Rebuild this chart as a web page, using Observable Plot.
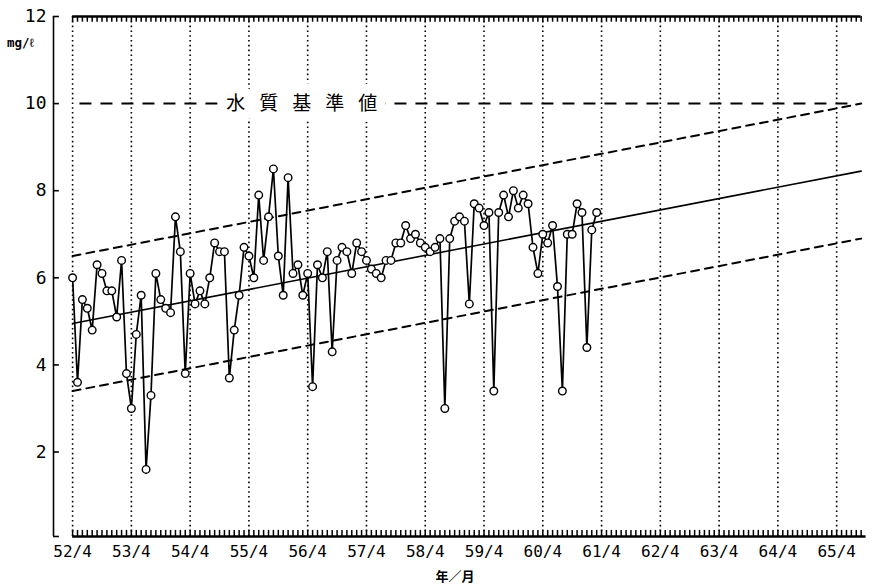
<!DOCTYPE html>
<html><head><meta charset="utf-8">
<script src="https://cdn.jsdelivr.net/npm/d3@7"></script>
<script src="https://cdn.jsdelivr.net/npm/@observablehq/plot@0.6"></script>
<style>
body{margin:0;background:#fff}
#chart{width:875px;height:584px}
</style>
</head><body><div id="chart"></div>
<script>
// Monthly nitrate values (mg/ℓ), from 52/4 through 61/3
const monthlyValues = [
  6.0, 3.6, 5.5, 5.3, 4.8, 6.3, 6.1, 5.7, 5.7, 5.1, 6.4, 3.8,
  3.0, 4.7, 5.6, 1.6, 3.3, 6.1, 5.5, 5.3, 5.2, 7.4, 6.6, 3.8,
  6.1, 5.4, 5.7, 5.4, 6.0, 6.8, 6.6, 6.6, 3.7, 4.8, 5.6, 6.7,
  6.5, 6.0, 7.9, 6.4, 7.4, 8.5, 6.5, 5.6, 8.3, 6.1, 6.3, 5.6,
  6.1, 3.5, 6.3, 6.0, 6.6, 4.3, 6.4, 6.7, 6.6, 6.1, 6.8, 6.6,
  6.4, 6.2, 6.1, 6.0, 6.4, 6.4, 6.8, 6.8, 7.2, 6.9, 7.0, 6.8,
  6.7, 6.6, 6.7, 6.9, 3.0, 6.9, 7.3, 7.4, 7.3, 5.4, 7.7, 7.6,
  7.2, 7.5, 3.4, 7.5, 7.9, 7.4, 8.0, 7.6, 7.9, 7.7, 6.7, 6.1,
  7.0, 6.8, 7.2, 5.8, 3.4, 7.0, 7.0, 7.7, 7.5, 4.4, 7.1, 7.5
];
const yearLabels = ["52/4","53/4","54/4","55/4","56/4","57/4","58/4","59/4","60/4","61/4","62/4","63/4","64/4","65/4"];
const yTickValues = [2, 4, 6, 8, 10, 12];
const standardValue = 10;
const standardLabel = "水質基準値";
const lineMonths = [0, 161];
const trendValues = [4.95, 8.45];
const upperValues = [6.5, 10.0];
const lowerValues = [3.4, 6.9];

const yMin = 0.06, yMax = 12;
const axisMonth = -3.9;
const yearMonths = yearLabels.map((_, i) => i * 12);
const monthTicks = d3.range(0, 162);
const series = monthlyValues.map((v, i) => ({m: i, v}));
const trend = lineMonths.map((m, i) => ({m, v: trendValues[i]}));
const upper = lineMonths.map((m, i) => ({m, v: upperValues[i]}));
const lower = lineMonths.map((m, i) => ({m, v: lowerValues[i]}));

const mono = "DejaVu Sans Mono, monospace";
const cjk = "Noto Sans CJK JP, sans-serif";

const chart = Plot.plot({
  width: 875, height: 584,
  marginTop: 16, marginBottom: 48, marginLeft: 53, marginRight: 7,
  style: {fontFamily: mono, fontSize: "16px", color: "#000", background: "#fff"},
  x: {domain: [axisMonth, 162.5], ticks: yearMonths, tickFormat: d => yearLabels[Math.round(d / 12)],
      tickSize: 0, tickPadding: 9, label: null},
  y: {domain: [yMin, yMax], ticks: yTickValues, tickFormat: d => String(d), tickSize: 0, tickPadding: 7, label: null},
  marks: [
    // dotted yearly grid
    Plot.ruleX(yearMonths, {x: d => d, y1: yMin, y2: yMax, stroke: "#000", strokeWidth: 1.6, strokeDasharray: "1.6,3.2"}),
    // top strip
    Plot.ruleY([yMax], {x1: 0, x2: 161, stroke: "#000", strokeWidth: 2.4}),
    Plot.ruleX(monthTicks, {x: d => d, y1: yMax, y2: yMax - 0.13, stroke: "#000", strokeWidth: 1.5}),
    // bottom strip
    Plot.ruleY([yMin], {x1: 0, x2: 162, stroke: "#000", strokeWidth: 2.4}),
    Plot.ruleX(monthTicks, {x: d => d, y1: yMin, y2: yMin + 0.14, stroke: "#000", strokeWidth: 1.5}),
    // left axis
    Plot.ruleX([axisMonth], {x: d => d, y1: yMin, y2: yMax, stroke: "#000", strokeWidth: 1.6}),
    Plot.ruleY(yTickValues.concat([yMin]), {y: d => d, x1: axisMonth, x2: axisMonth + 1.2, stroke: "#000", strokeWidth: 1.6}),
    // water quality standard
    Plot.ruleY([standardValue], {y: d => d, x1: 1.5, x2: 160, stroke: "#000", strokeWidth: 2, strokeDasharray: "12,9"}),
    Plot.text([standardLabel], {x: 47, y: standardValue, text: d => d, fontSize: 19, fontFamily: cjk,
      fill: "#000", stroke: "#fff", strokeWidth: 20, dx: 6}),
    // trend and bounds
    Plot.line(upper, {x: "m", y: "v", stroke: "#000", strokeWidth: 2, strokeDasharray: "8,6"}),
    Plot.line(lower, {x: "m", y: "v", stroke: "#000", strokeWidth: 2, strokeDasharray: "8,6"}),
    Plot.line(trend, {x: "m", y: "v", stroke: "#000", strokeWidth: 1.6}),
    // data
    Plot.line(series, {x: "m", y: "v", stroke: "#000", strokeWidth: 1.7}),
    Plot.dot(series, {x: "m", y: "v", r: 3.8, fill: "#fff", stroke: "#000", strokeWidth: 1.4})
  ]
});

const svg = d3.select(chart);
svg.selectAll('g[aria-label="text"] text').style("letter-spacing", "14px");
svg.selectAll('g[aria-label="y-axis tick label"] text').style("font-size", "18px");
svg.append("text").attr("x", 7).attr("y", 47).attr("text-anchor", "start").attr("font-family", mono)
  .attr("font-weight", "bold").attr("font-size", 12.5).attr("fill", "#000").text("mg/ℓ");
svg.append("text").attr("x", 455).attr("y", 581).attr("text-anchor", "middle").attr("font-family", cjk)
  .attr("font-weight", "bold").attr("font-size", 13).attr("fill", "#000").text("年／月");
document.getElementById("chart").appendChild(chart);
</script>
</body></html>
